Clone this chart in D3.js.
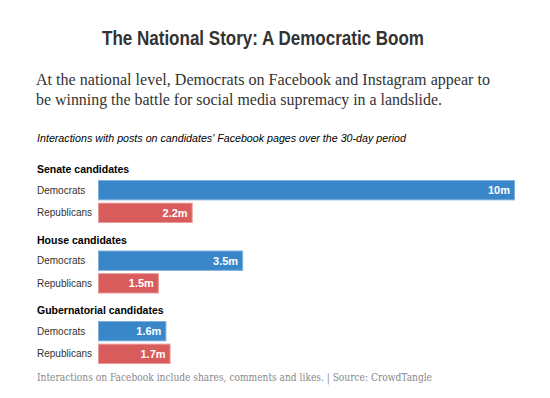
<!DOCTYPE html>
<html>
<head>
<meta charset="utf-8">
<style>
  body { margin: 0; background: #fff; }
  .rowlabel { font-family: "Liberation Sans", Arial, sans-serif; font-size: 10px; fill: #333; }
  .group { font-family: "Liberation Sans", Arial, sans-serif; font-size: 10.5px; font-weight: bold; fill: #000; }
  .val { font-family: "Liberation Sans", Arial, sans-serif; font-size: 11px; font-weight: bold; fill: #fff; }
</style>
</head>
<body>
<script src="https://cdn.jsdelivr.net/npm/d3@7"></script>
<script>
// data
var groups = ["Senate candidates", "House candidates", "Gubernatorial candidates"];
var parties = ["Democrats", "Republicans"];
var demValues = [10, 3.48, 1.64];
var repValues = [2.27, 1.46, 1.74];
var demLabels = ["10m", "3.5m", "1.6m"];
var repLabels = ["2.2m", "1.5m", "1.7m"];

var width = 550, height = 398;
var blue = "#3987c9", red = "#d95c5c";

var svg = d3.select("body").append("svg")
    .attr("width", width)
    .attr("height", height);

// title (condensed face not installed, so squeeze to the reference width)
svg.append("text")
    .attr("x", 102)
    .attr("y", 45)
    .attr("textLength", 322)
    .attr("lengthAdjust", "spacingAndGlyphs")
    .style("font-family", "'Liberation Sans', Arial, sans-serif")
    .style("font-weight", "bold")
    .style("font-size", "20px")
    .style("fill", "#333")
    .text("The National Story: A Democratic Boom");

// subtitle
var sub = ["At the national level, Democrats on Facebook and Instagram appear to",
           "be winning the battle for social media supremacy in a landslide."];
var subLen = [454, 406];
svg.selectAll(".sub").data(sub).enter().append("text")
    .attr("class", "sub")
    .attr("x", 36)
    .attr("y", function (d, i) { return 85 + i * 20; })
    .attr("textLength", function (d, i) { return subLen[i]; })
    .attr("lengthAdjust", "spacingAndGlyphs")
    .style("font-family", "'Liberation Serif', Georgia, serif")
    .style("font-size", "17px")
    .style("fill", "#333")
    .text(function (d) { return d; });

svg.append("text")
    .attr("x", 37)
    .attr("y", 142)
    .attr("textLength", 369)
    .attr("lengthAdjust", "spacingAndGlyphs")
    .style("font-family", "'Liberation Sans', Arial, sans-serif")
    .style("font-style", "italic")
    .style("font-size", "11px")
    .style("fill", "#000")
    .text("Interactions with posts on candidates' Facebook pages over the 30-day period");

// scales
var x = d3.scaleLinear().domain([0, 10]).range([0, 417]);
var x0 = 98;

var rows = [];
groups.forEach(function (g, gi) {
    rows.push({ g: gi, p: 0, v: demValues[gi], label: demLabels[gi] });
    rows.push({ g: gi, p: 1, v: repValues[gi], label: repLabels[gi] });
});

var band = d3.scaleBand().domain(parties).range([0, 43]).paddingInner(0.1);

var g = svg.selectAll(".grp").data(groups).enter().append("g")
    .attr("class", "grp")
    .attr("transform", function (d, i) { return "translate(0," + (180 + i * 70.5) + ")"; });

g.append("text")
    .attr("class", "group")
    .attr("x", 37)
    .attr("y", -7)
    .text(function (d) { return d; });

var row = g.selectAll(".row").data(function (d, gi) {
        return rows.filter(function (r) { return r.g === gi; });
    }).enter().append("g")
    .attr("class", "row")
    .attr("transform", function (d) { return "translate(0," + band(parties[d.p]) + ")"; });

row.append("text")
    .attr("class", "rowlabel")
    .attr("x", 37)
    .attr("y", band.bandwidth() / 2)
    .attr("dy", "0.35em")
    .text(function (d) { return parties[d.p]; });

row.append("rect")
    .attr("x", x0 + 0.5)
    .attr("y", 0.5)
    .attr("width", function (d) { return x(d.v) - 1; })
    .attr("height", band.bandwidth() - 1)
    .attr("fill", function (d) { return d.p === 0 ? blue : red; })
    .attr("stroke", function (d) { return d.p === 0 ? "#7fb0dc" : "#e99a9a"; })
    .attr("stroke-width", 1);

row.append("text")
    .attr("class", "val")
    .attr("x", function (d) { return x0 + x(d.v) - 5; })
    .attr("y", band.bandwidth() / 2)
    .attr("dy", "0.36em")
    .attr("text-anchor", "end")
    .text(function (d) { return d.label; });

// footer
svg.append("text")
    .attr("x", 37)
    .attr("y", 381)
    .attr("textLength", 395)
    .attr("lengthAdjust", "spacingAndGlyphs")
    .style("font-family", "'DejaVu Serif', Georgia, serif")
    .style("font-size", "11px")
    .style("fill", "#888")
    .text("Interactions on Facebook include shares, comments and likes. | Source: CrowdTangle");
</script>
</body>
</html>
